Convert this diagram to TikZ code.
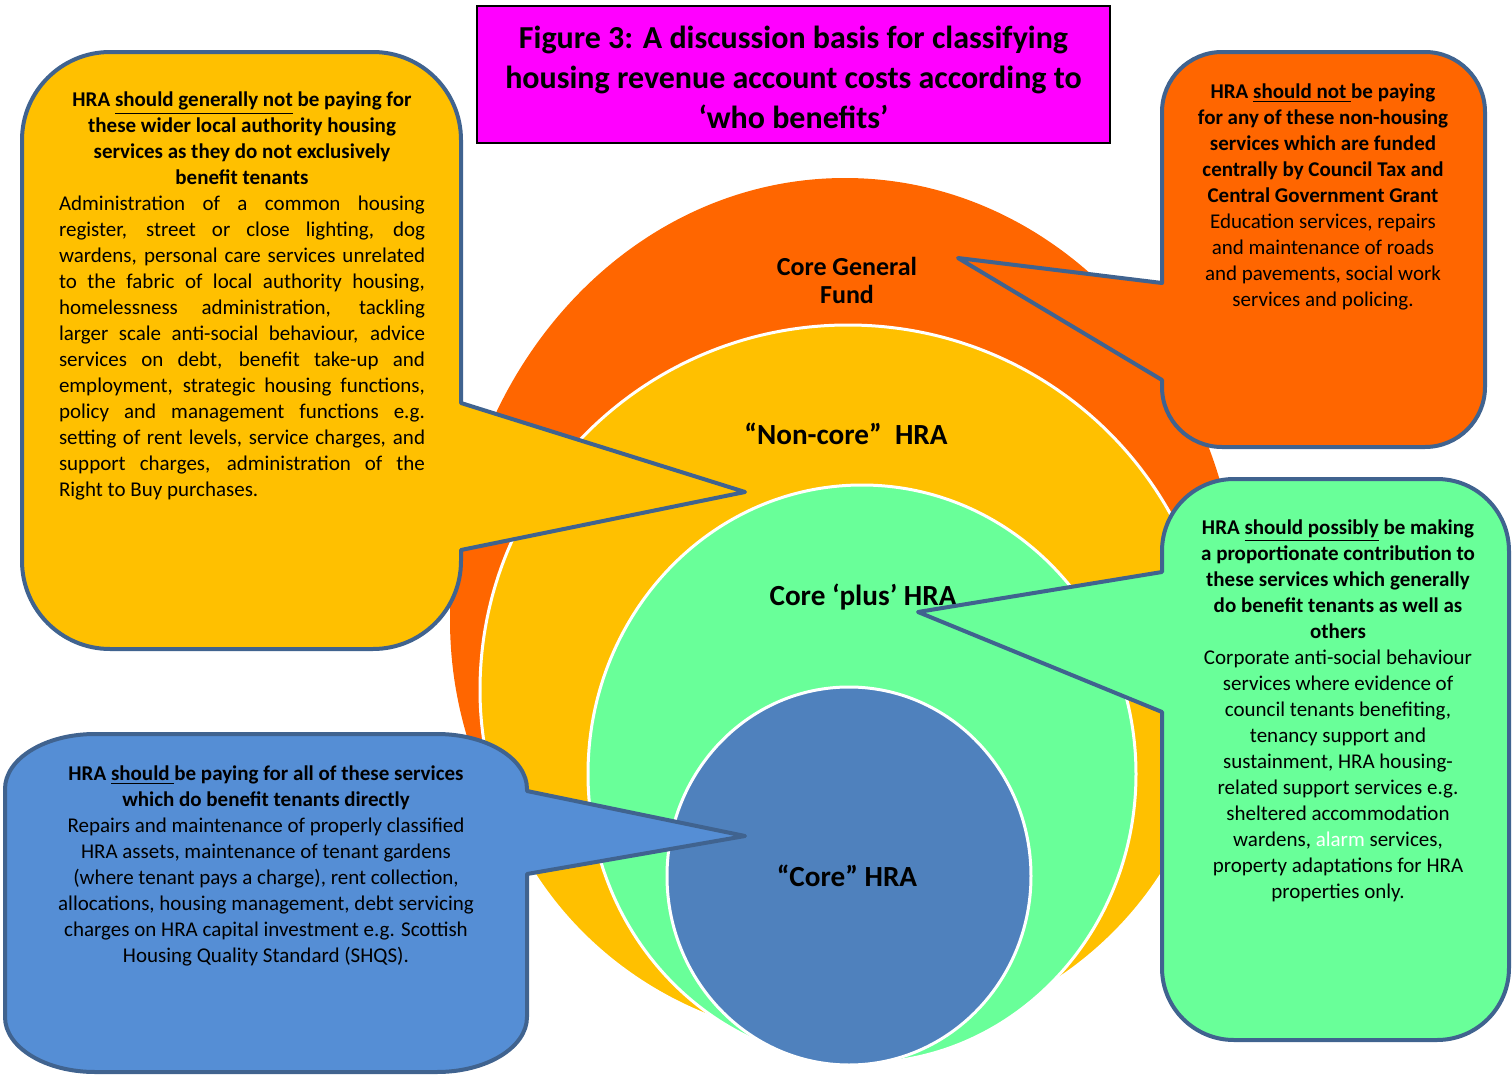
\documentclass[tikz,border=0pt]{standalone}
\usepackage{fontspec}
\setmainfont{Carlito}
\definecolor{cOrange}{RGB}{255,102,0}
\definecolor{cYellow}{RGB}{255,192,0}
\definecolor{cGreen}{RGB}{105,255,153}
\definecolor{cBlueE}{RGB}{79,129,189}
\definecolor{cBlueC}{RGB}{85,142,213}
\definecolor{cLine}{RGB}{64,99,143}
\definecolor{cMag}{RGB}{255,0,255}
\newcommand\jl[1]{\makebox[183pt][s]{#1}}
\newcommand\bl[1]{\textbf{#1}}
\begin{document}
\begin{tikzpicture}[x=0.5pt,y=-0.5pt,
  ring/.style={draw=white,line width=1.5pt},
  callout/.style={draw=cLine,line width=2pt,line join=round},
  ctext/.style={align=center,inner sep=0pt,font=\fontsize{10.5}{13}\selectfont,text=black},
  lab/.style={inner sep=0pt,align=center,font=\fontsize{13}{14}\selectfont\bfseries},
  labbig/.style={inner sep=0pt,align=center,font=\fontsize{14.6}{16}\selectfont\bfseries}]
\useasboundingbox (0,0) rectangle (1512,1076);
% rings
\fill[cOrange] (450,620) arc[start angle=180,end angle=360,x radius=395,y radius=442]
   arc[start angle=0,end angle=180,x radius=395,y radius=400] -- cycle;
\draw[ring,fill=cYellow] (480,690) arc[start angle=180,end angle=360,x radius=368,y radius=365]
   arc[start angle=0,end angle=180,x radius=368,y radius=352] -- cycle;
\draw[ring,fill=cGreen] (862,774) ellipse [x radius=274,y radius=289];
\draw[ring,fill=cBlueE] (849,876) ellipse [x radius=182,y radius=189];
% labels in rings
\node[lab] (cgf) at (847,280) {Core General\\Fund};
\node[labbig] (nc) at (846,434) {“Non-core”\ \ HRA};
\node[labbig] (cp) at (863,597) {Core ‘plus’ HRA};
\node[labbig] (core) at (847,876) {“Core” HRA};
% left yellow callout
\draw[callout,fill=cYellow] (110,52) -- (373,52) .. controls (421.6,52) and (461,91.4) .. (461,140)
  -- (461,403) -- (745,492) -- (461,550) -- (461,561)
  .. controls (461,609.6) and (421.6,649) .. (373,649) -- (110,649)
  .. controls (61.4,649) and (22,609.6) .. (22,561) -- (22,140)
  .. controls (22,91.4) and (61.4,52) .. (110,52) -- cycle;
% orange callout
\draw[callout,fill=cOrange] (1222,52) -- (1425,52) .. controls (1458.1,52) and (1485,78.9) .. (1485,112)
  -- (1485,387) .. controls (1485,420.1) and (1458.1,447) .. (1425,447) -- (1222,447)
  .. controls (1188.9,447) and (1162,420.1) .. (1162,387) -- (1162,380) -- (958,258) -- (1162,283)
  -- (1162,112) .. controls (1162,78.9) and (1188.9,52) .. (1222,52) -- cycle;
% green callout
\draw[callout,fill=cGreen] (1234,479) -- (1437,479) .. controls (1476.8,479) and (1509,511.2) .. (1509,551)
  -- (1509,968) .. controls (1509,1007.8) and (1476.8,1040) .. (1437,1040) -- (1234,1040)
  .. controls (1194.2,1040) and (1162,1007.8) .. (1162,968) -- (1162,712) -- (918,612) -- (1162,572)
  -- (1162,551) .. controls (1162,511.2) and (1194.2,479) .. (1234,479) -- cycle;
% blue callout
\draw[callout,fill=cBlueC] (95,734) -- (437,734) .. controls (486.7,734) and (527,758.6) .. (527,789)
  -- (527,791) -- (745,836) -- (527,874) -- (527,1017)
  .. controls (527,1047.4) and (486.7,1072) .. (437,1072) -- (95,1072)
  .. controls (45.3,1072) and (5,1047.4) .. (5,1017) -- (5,789)
  .. controls (5,758.6) and (45.3,734) .. (95,734) -- cycle;
% title
\node[draw=black,line width=0.6pt,fill=cMag,minimum width=316.5pt,minimum height=68.5pt,inner sep=0pt] (title) at (793.5,74.5) {};
\node[align=center,inner sep=0pt,font=\fontsize{16}{20}\selectfont\bfseries] (titletext) at (793.5,77)
  {Figure 3: A discussion basis for classifying\\housing revenue account costs according to\\‘who benefits’};
% left text
\node[ctext] (lt) at (242,296) {\bl{HRA \underline{should generally not} be paying for}\\
\bl{these wider local authority housing}\\
\bl{services as they do not exclusively}\\
\bl{benefit tenants}\\
\jl{Administration of a common housing}\\
\jl{register, street or close lighting, dog}\\
\jl{wardens, personal care services unrelated}\\
\jl{to the fabric of local authority housing,}\\
\jl{homelessness administration, tackling}\\
\jl{larger scale anti-social behaviour, advice}\\
\jl{services on debt, benefit take-up and}\\
\jl{employment, strategic housing functions,}\\
\jl{policy and management functions e.g.}\\
\jl{setting of rent levels, service charges, and}\\
\jl{support charges, administration of the}\\
\makebox[183pt][l]{Right to Buy purchases.}};
% orange text
\node[ctext] (ot) at (1323,197) {\bl{HRA \underline{should not\ }be paying}\\
\bl{for any of these non-housing}\\
\bl{services which are funded}\\
\bl{centrally by Council Tax and}\\
\bl{Central Government Grant}\\
Education services, repairs\\and maintenance of roads\\and pavements, social work\\services and policing.};
% green text
\node[ctext] (gt) at (1338,711) {\bl{HRA \underline{should possibly} be making}\\
\bl{a proportionate contribution to}\\
\bl{these services which generally}\\
\bl{do benefit tenants as well as}\\
\bl{others}\\
Corporate anti-social behaviour\\services where evidence of\\council tenants benefiting,\\tenancy support and\\
sustainment, HRA housing-\\related support services e.g.\\sheltered accommodation\\
wardens, \textcolor{white}{alarm} services,\\property adaptations for HRA\\properties only.};
% blue text
\node[ctext] (bt) at (266,866) {\bl{HRA \underline{should\ }be paying for all of these services}\\
\bl{which do benefit tenants directly}\\
Repairs and maintenance of properly classified\\HRA assets, maintenance of tenant gardens\\
(where tenant pays a charge), rent collection,\\allocations, housing management, debt servicing\\
charges on HRA capital investment e.g. Scottish\\Housing Quality Standard (SHQS).};
\end{tikzpicture}
\end{document}
